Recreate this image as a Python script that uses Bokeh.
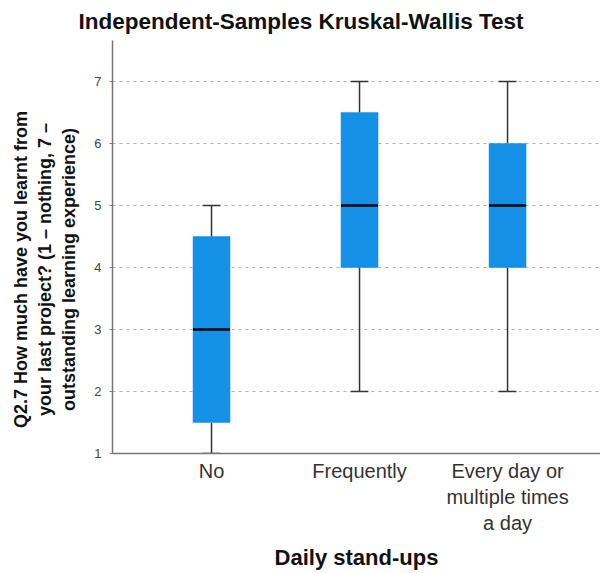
from bokeh.plotting import figure
from bokeh.embed import file_html
from bokeh.resources import INLINE
from bokeh.models import FixedTicker, Range1d, ColumnDataSource

categories = ["No", "Frequently", "Every day or\nmultiple times\na day"]
mins = [1, 2, 2]
q1s = [1.5, 4, 4]
medians = [3, 5, 5]
q3s = [4.5, 6.5, 6]
maxs = [5, 7, 7]
y_ticks = [1, 2, 3, 4, 5, 6, 7]
y_lines = ["Q2.7 How much have you learnt from",
           "your last project? (1 \u2013 nothing, 7 \u2013",
           "outstanding learning experience)"]
x_title = "Daily stand-ups"
chart_title = "Independent-Samples Kruskal-Wallis Test"

pos = list(range(len(categories)))
box_w = 0.25
cap_w = 0.12

src = ColumnDataSource(dict(
    x=pos, mn=mins, q1=q1s, med=medians, q3=q3s, mx=maxs,
    bl=[x - box_w / 2 for x in pos], br=[x + box_w / 2 for x in pos],
    cl=[x - cap_w / 2 for x in pos], cr=[x + cap_w / 2 for x in pos],
))

FONT = "Liberation Sans"

p = figure(width=600, height=573, output_backend="svg", toolbar_location=None,
           x_range=Range1d(-0.669, 2.628), y_range=Range1d(1, 7.66),
           title=chart_title,
           min_border_left=112, min_border_right=0, min_border_top=0, min_border_bottom=119)

p.outline_line_color = None
p.background_fill_color = "white"

# title
p.title.text_font = FONT
p.title.text_font_size = "22.5px"
p.title.text_font_style = "bold"
p.title.text_color = "#111111"
p.title.align = "left"
p.title.offset = -34
p.title.standoff = 13

# grids
p.xgrid.grid_line_color = None
p.ygrid.grid_line_color = "#b0b0b0"
p.ygrid.grid_line_dash = "3 4"
p.ygrid.grid_line_width = 1

# whiskers
p.segment(x0="x", y0="q3", x1="x", y1="mx", source=src, line_color="#333333", line_width=1.5)
p.segment(x0="x", y0="q1", x1="x", y1="mn", source=src, line_color="#333333", line_width=1.5)
p.segment(x0="cl", y0="mx", x1="cr", y1="mx", source=src, line_color="#333333", line_width=1.5)
p.segment(x0="cl", y0="mn", x1="cr", y1="mn", source=src, line_color="#333333", line_width=1.5)

# boxes
p.vbar(x="x", width=box_w, top="q3", bottom="q1", source=src,
       fill_color="#1490e6", line_color="#1490e6", line_width=0.5)
# medians
p.segment(x0="bl", y0="med", x1="br", y1="med", source=src, line_color="black", line_width=2.5)

# axes
p.xaxis.ticker = FixedTicker(ticks=pos)
p.xaxis.major_label_overrides = {x: c for x, c in zip(pos, categories)}
p.xaxis.major_label_text_font = FONT
p.xaxis.major_label_text_font_size = "20px"
p.xaxis.major_label_text_color = "#333333"
p.xaxis.major_tick_line_color = None
p.xaxis.major_tick_out = 0
p.xaxis.major_tick_in = 0
p.xaxis.minor_tick_line_color = None
p.xaxis.axis_line_color = "#777777"
p.xaxis.axis_line_width = 1.5
p.xaxis.axis_label = x_title
p.xaxis.axis_label_text_font = FONT
p.xaxis.axis_label_text_font_size = "22px"
p.xaxis.axis_label_text_font_style = "bold"
p.xaxis.axis_label_text_color = "#111111"
p.xaxis.axis_label_standoff = 8
p.xaxis.major_label_standoff = 6

p.yaxis.ticker = FixedTicker(ticks=y_ticks)
p.yaxis.major_label_text_font = FONT
p.yaxis.major_label_text_font_size = "13px"
p.yaxis.major_label_text_color = "#444444"
p.yaxis.major_tick_line_color = "#777777"
p.yaxis.major_tick_out = 3
p.yaxis.major_tick_in = 0
p.yaxis.minor_tick_line_color = None
p.yaxis.axis_line_color = "#777777"
p.yaxis.axis_line_width = 1.5
p.yaxis.major_label_standoff = 8
# trailing no-break spaces nudge the centred rotated label downwards, as in the reference
pad = "\u00a0" * 9
p.yaxis.axis_label = "\n".join(line + pad for line in y_lines)
p.yaxis.axis_label_text_font = FONT
p.yaxis.axis_label_text_font_size = "18px"
p.yaxis.axis_label_text_font_style = "bold"
p.yaxis.axis_label_text_color = "#111111"
p.yaxis.axis_label_standoff = 12

open("out.html", "w").write(file_html(p, INLINE))
